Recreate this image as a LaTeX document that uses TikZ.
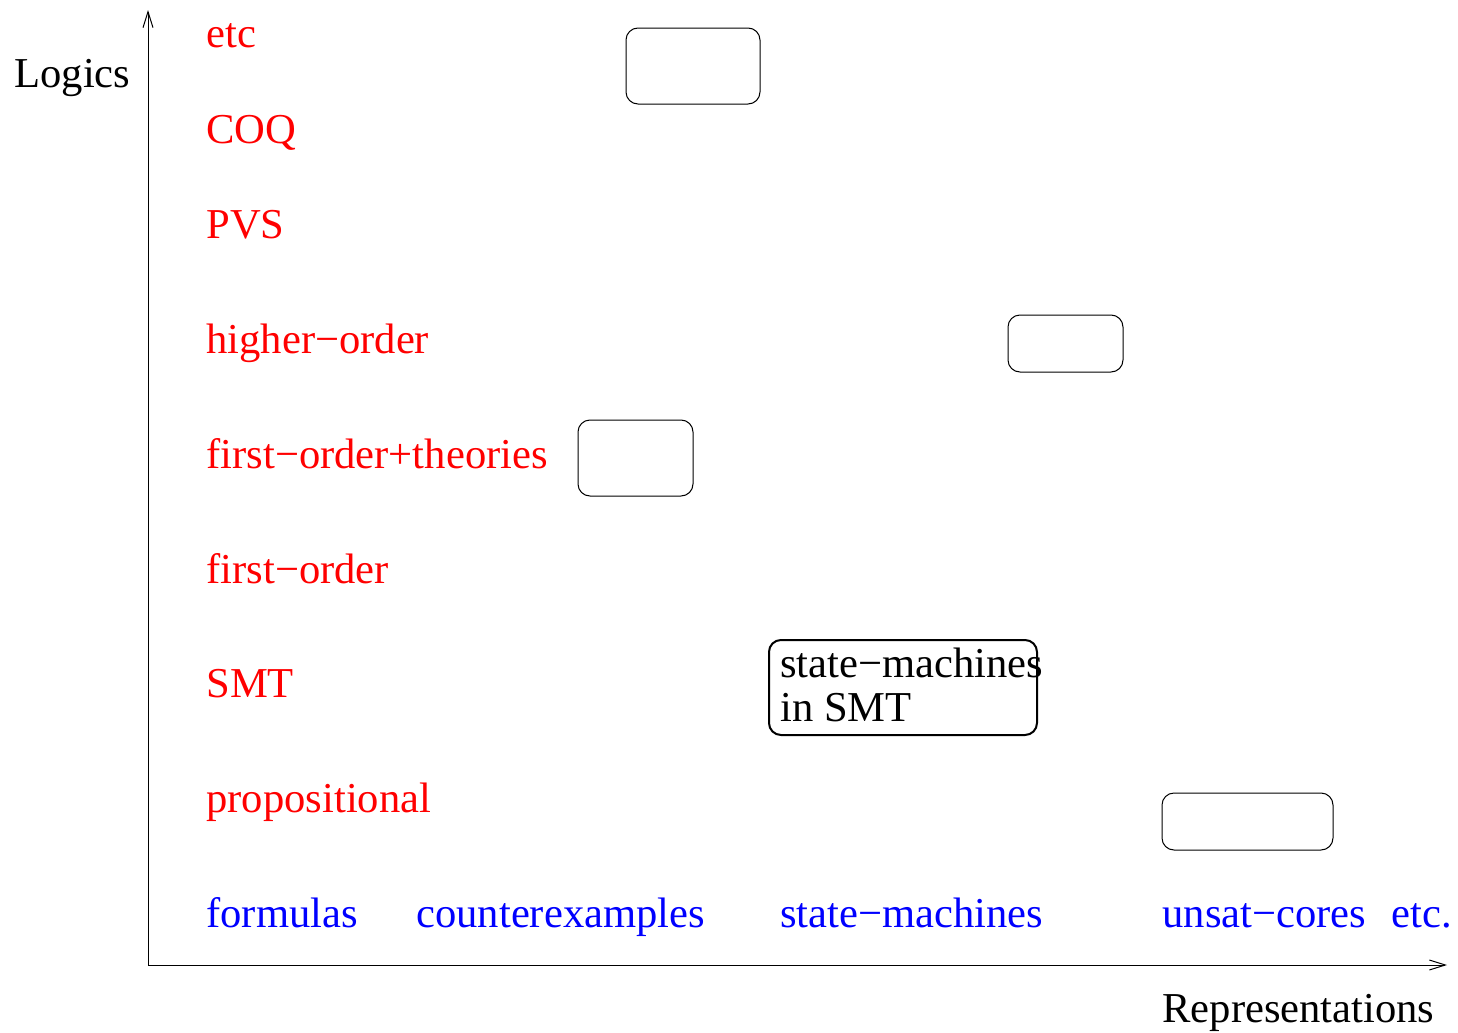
\documentclass[tikz,border=0pt]{standalone}
\usepackage{fontspec}
\setmainfont{Liberation Serif}
\usetikzlibrary{arrows.meta}
\definecolor{logicred}{HTML}{FF0000}
\definecolor{reprblue}{HTML}{0000FF}

\begin{document}
\begin{tikzpicture}[
    x=0.5pt, y=-0.5pt,
    every node/.style={font=\fontsize{21.3}{22}\selectfont},
    axis/.style={-{Straight Barb[length=8pt,width=5pt]}, line width=0.5pt},
    logic/.style={anchor=base west, inner sep=0pt, text=logicred},
    repr/.style={anchor=base west, inner sep=0pt, text=reprblue},
    title/.style={anchor=base west, inner sep=0pt, text=black},
    cell/.style={draw, rounded corners=6pt, line width=0.5pt, inner sep=0pt},
    bigcell/.style={cell, line width=1pt},
]
\useasboundingbox (0,0) rectangle (1458,1033);

% --- Axes ---
\coordinate (origin) at (148,965);
\coordinate (ytop) at (148,10);
\coordinate (xend) at (1447,965);
\draw[axis] (origin) -- (ytop);
\draw[axis] (origin) -- (xend);
\node[title] (logics) at (14,87) {Logics};
\node[title] (reprs) at (1162,1022) {Representations};

% --- Logics ---
\node[logic] (etc) at (206,47) {etc};
\node[logic] (coq) at (206,143) {COQ};
\node[logic] (pvs) at (206,238) {PVS};
\node[logic] (ho) at (206,353) {higher−order};
\node[logic] (fot) at (206,468) {first−order+theories};
\node[logic] (fo) at (206,583) {first−order};
\node[logic] (smt) at (206,697) {SMT};
\node[logic] (prop) at (206,812) {propositional};

% --- Representations ---
\node[repr] (form) at (206,927) {formulas};
\node[repr] (cex) at (416,927) {counterexamples};
\node[repr] (sm) at (780,927) {state−machines};
\node[repr] (uc) at (1162,927) {unsat−cores};
\node[repr] (etcr) at (1391,927) {etc.};

% --- Cells ---
\node[cell, minimum width=67pt, minimum height=38pt] (cellcoq) at (693,66) {};
\node[cell, minimum width=57.5pt, minimum height=28.5pt] (cellho) at (1065.5,343.5) {};
\node[cell, minimum width=57.5pt, minimum height=38pt] (cellfot) at (635.5,458) {};
\node[bigcell, minimum width=134pt, minimum height=47.5pt] (cellsmt) at (903,687.5) {};
\node[title, align=left] (smtext) at (780,721) {state−machines\\in SMT};
\node[cell, minimum width=85.5pt, minimum height=28.5pt] (cellprop) at (1247.5,821.5) {};

\end{tikzpicture}
\end{document}
